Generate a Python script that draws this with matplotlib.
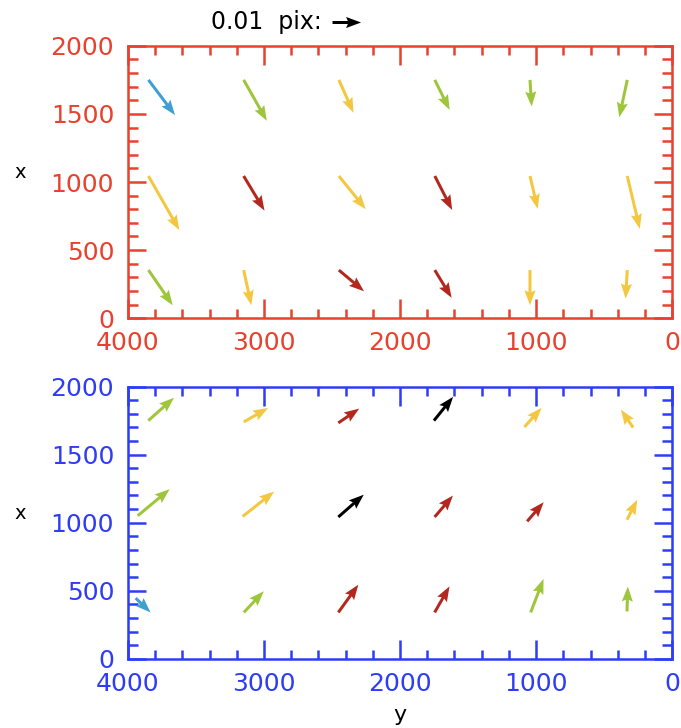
# quiver_panels.py
# Dwa panele z wektorami przesuniec (IDL-like), os pozioma odwrocona.

import matplotlib
matplotlib.use("Agg")
import matplotlib.pyplot as plt
from matplotlib.ticker import MultipleLocator

plt.rcParams['font.family'] = ['DejaVu Sans']

# --- dane: panel gorny (pozycje ogona w jednostkach osi, przesuniecia w pix) ---
top_pos_y = [3850, 3150, 2450, 1745, 1045, 330,
             3850, 3150, 2450, 1745, 1045, 330,
             3850, 3150, 2450, 1745, 1045, 330]
top_pos_x = [1750, 1750, 1750, 1750, 1750, 1750,
             1044, 1044, 1044, 1044, 1044, 1044,
             353, 353, 353, 353, 353, 353]
top_dy = [-0.0093, -0.0081, -0.0051, -0.0052, -0.0006, 0.0028,
          -0.0108, -0.0073, -0.0094, -0.0061, -0.0027, -0.0044,
          -0.0085, -0.0027, -0.0088, -0.0059, 0.0000, 0.0006]
top_dx = [-0.0123, -0.0143, -0.0115, -0.0105, -0.0093, -0.0131,
          -0.0189, -0.0121, -0.0116, -0.0119, -0.0115, -0.0185,
          -0.0123, -0.0123, -0.0074, -0.0097, -0.0123, -0.0100]
top_cls = ['b', 'g', 'y', 'g', 'g', 'g',
           'y', 'r', 'y', 'r', 'y', 'y',
           'g', 'y', 'r', 'r', 'y', 'y']

# --- dane: panel dolny ---
bot_pos_y = [3851, 3149, 2454, 1751, 1086, 287,
             3929, 3157, 2454, 1746, 1066, 332,
             3944, 3149, 2454, 1746, 1040, 332]
bot_pos_x = [1750, 1740, 1733, 1750, 1703, 1699,
             1051, 1046, 1042, 1042, 1010, 1022,
             446, 341, 341, 341, 341, 348]
bot_dy = [-0.0090, -0.0085, -0.0073, -0.0067, -0.0060, 0.0043,
          -0.0112, -0.0110, -0.0089, -0.0064, -0.0058, -0.0036,
          -0.0052, -0.0070, -0.0070, -0.0052, -0.0045, -0.0003]
bot_dx = [0.0080, 0.0049, 0.0050, 0.0083, 0.0067, 0.0063,
          0.0093, 0.0087, 0.0078, 0.0075, 0.0067, 0.0070,
          -0.0050, 0.0074, 0.0097, 0.0091, 0.0117, 0.0087]
bot_cls = ['g', 'y', 'r', 'k', 'y', 'y',
           'g', 'y', 'k', 'r', 'r', 'y',
           'b', 'g', 'r', 'r', 'g', 'g']

KEY_LEN = 0.01          # dlugosc wektora w legendzie [pix]
KEY_UNITS = 210.0       # dlugosc tego wektora w jednostkach osi

PALETTE = {'b': '#3f9fd4', 'g': '#9dc63b', 'y': '#f3c73f',
           'r': '#b3281e', 'k': '#000000'}
RED = '#e8412e'
BLUE = '#2e3df5'


def style_axes(ax, color):
    """Ramka i znaczniki w stylu IDL (do srodka, na wszystkich bokach)."""
    ax.set_xlim(4000, 0)
    ax.set_ylim(0, 2000)
    ax.xaxis.set_major_locator(MultipleLocator(1000))
    ax.xaxis.set_minor_locator(MultipleLocator(200))
    ax.yaxis.set_major_locator(MultipleLocator(500))
    ax.yaxis.set_minor_locator(MultipleLocator(100))
    for sp in ax.spines.values():
        sp.set_color(color)
        sp.set_linewidth(1.8)
    ax.tick_params(which='both', direction='in', top=True, right=True,
                   color=color, labelcolor=color, width=1.8, labelsize=18)
    ax.tick_params(axis='x', which='major', length=13.5, pad=9.5)
    ax.tick_params(axis='x', which='minor', length=6.5)
    ax.tick_params(axis='y', which='major', length=13, pad=10)
    ax.tick_params(axis='y', which='minor', length=7)


def draw_vectors(ax, px, py, du, dv, cls):
    colors = [PALETTE[c] for c in cls]
    return ax.quiver(px, py, du, dv, color=colors,
                     angles='xy', scale_units='xy', scale=KEY_LEN / KEY_UNITS,
                     units='dots', width=3.0, headwidth=3.7,
                     headlength=5.0, headaxislength=4.4, zorder=3)


fig = plt.figure(figsize=(6.81, 7.28), dpi=100)
ax1 = fig.add_axes([0.188, 0.563, 0.799, 0.374])
ax2 = fig.add_axes([0.188, 0.095, 0.799, 0.374])

# Panel 1
style_axes(ax1, RED)
q1 = draw_vectors(ax1, top_pos_y, top_pos_x, top_dy, top_dx, top_cls)
ax1.set_ylabel('x', rotation=0, fontsize=14)
ax1.yaxis.set_label_coords(-0.198, 0.5)

# Panel 2
style_axes(ax2, BLUE)
draw_vectors(ax2, bot_pos_y, bot_pos_x, bot_dy, bot_dx, bot_cls)
ax2.set_ylabel('x', rotation=0, fontsize=14)
ax2.yaxis.set_label_coords(-0.198, 0.5)
ax2.set_xlabel('y', fontsize=16)
ax2.xaxis.set_label_coords(0.5, -0.17)

# Wektor referencyjny
ax1.quiverkey(q1, X=0.4875, Y=0.970, U=KEY_LEN, label='0.01  pix:',
              labelpos='W', coordinates='figure', color='black',
              labelsep=0.1, fontproperties={'size': 17})

fig.savefig('out.png', dpi=100)
